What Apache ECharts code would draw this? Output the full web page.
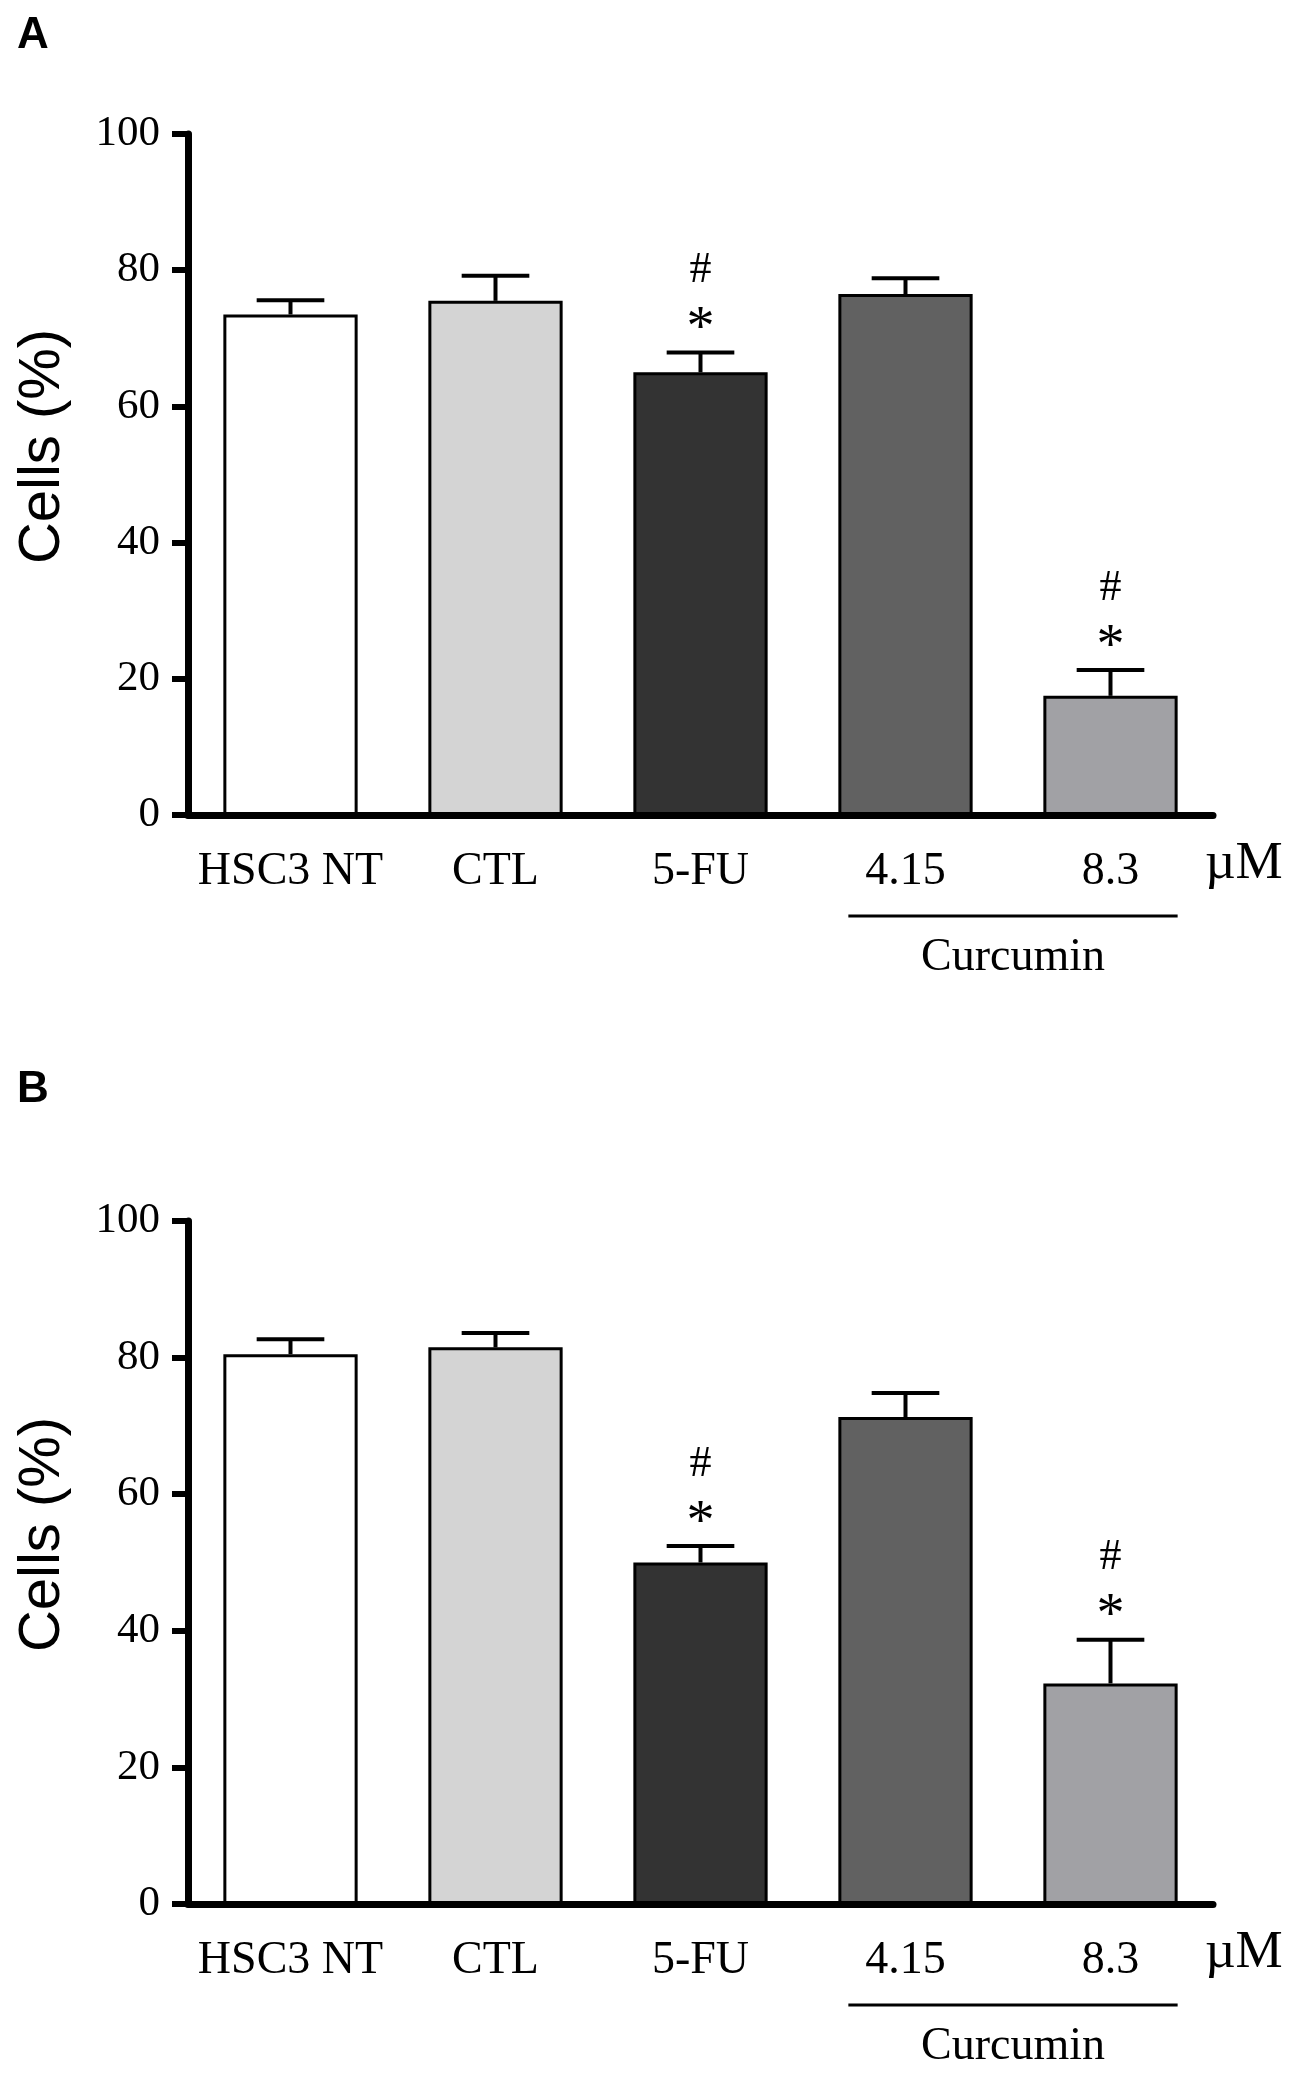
<!DOCTYPE html>
<html>
<head>
<meta charset="utf-8">
<script src="https://cdn.jsdelivr.net/npm/echarts@6/dist/echarts.min.js"></script>
<style>
html,body{margin:0;padding:0;background:#fff;}
#chart{width:1298px;height:2077px;}
</style>
</head>
<body>
<div id="chart"></div>
<script>
// ---- data ----
const categories = ['HSC3 NT', 'CTL', '5-FU', '4.15', '8.3'];
const barColors = ['#ffffff', '#d4d4d4', '#333333', '#616161', '#a1a1a5'];
const yTicks = [0, 20, 40, 60, 80, 100];

const meanA = [73.5, 75.5, 65.0, 76.5, 17.5];
const errA  = [2.1, 3.7, 2.9, 2.3, 3.8];
const sigA  = ['', '', '#*', '', '#*'];

const meanB = [80.5, 81.5, 50.0, 71.3, 32.3];
const errB  = [2.2, 2.1, 2.4, 3.5, 6.4];
const sigB  = ['', '', '#*', '', '#*'];

const panelLabels = ['A', 'B'];
const yTitle = 'Cells (%)';
const unitLabel = 'µM';
const groupLabel = 'Curcumin';
const groupRange = [3, 4];

// ---- build ----
const serif = 'Liberation Serif';
const sans = 'Liberation Sans';
const grids = [
  {left: 188, right: 85, top: 134, height: 681},
  {left: 188, right: 85, top: 1221, height: 683}
];

function xAxisFor(gi) {
  return {
    type: 'category', gridIndex: gi, data: categories,
    axisLine: {lineStyle: {color: '#000', width: 7}},
    axisTick: {alignWithLabel: true, length: 22, lineStyle: {color: '#000', width: 5}},
    axisLabel: {color: '#000', fontFamily: serif, fontSize: 46, margin: 34, interval: 0},
    splitLine: {show: false}
  };
}
function yAxisFor(gi) {
  return {
    type: 'value', gridIndex: gi, min: yTicks[0], max: yTicks[yTicks.length - 1], interval: 20,
    axisLine: {show: true, lineStyle: {color: '#000', width: 7}},
    axisTick: {show: true, length: 16, lineStyle: {color: '#000', width: 6}},
    axisLabel: {color: '#000', fontFamily: serif, fontSize: 43, margin: 28},
    splitLine: {show: false},
    name: yTitle, nameLocation: 'middle', nameGap: 116,
    nameTextStyle: {color: '#000', fontFamily: sans, fontSize: 58, padding: [0, 0, 0, 56]}
  };
}

function barSeries(gi, means) {
  return {
    type: 'bar', xAxisIndex: gi, yAxisIndex: gi, barWidth: '65.5%',
    data: means.map((v, i) => ({value: v, itemStyle: {color: barColors[i]}})),
    itemStyle: {borderColor: '#000', borderWidth: 3},
    z: 2, silent: true
  };
}

function errSeries(gi, means, errs) {
  return {
    type: 'custom', xAxisIndex: gi, yAxisIndex: gi, z: 3, silent: true,
    data: means.map((m, i) => [i, m, errs[i]]),
    encode: {x: 0, y: 1},
    renderItem: function (params, api) {
      const i = api.value(0), m = api.value(1), e = api.value(2);
      const p0 = api.coord([i, m]);
      const p1 = api.coord([i, m + e]);
      const w = api.size([1, 0])[0] * 0.33;
      const st = {stroke: '#000', lineWidth: 4};
      return {type: 'group', children: [
        {type: 'line', shape: {x1: p0[0], y1: p0[1], x2: p1[0], y2: p1[1]}, style: st},
        {type: 'line', shape: {x1: p1[0] - w / 2, y1: p1[1], x2: p1[0] + w / 2, y2: p1[1]}, style: st}
      ]};
    }
  };
}

function sigSeries(gi, means, errs, sig) {
  const data = [];
  sig.forEach((s, i) => { if (s) data.push([i, means[i] + errs[i], s]); });
  return {
    type: 'custom', xAxisIndex: gi, yAxisIndex: gi, z: 4, silent: true,
    data: data, encode: {x: 0, y: 1},
    renderItem: function (params, api) {
      const i = api.value(0), top = api.value(1);
      const s = data[params.dataIndex][2];
      const p = api.coord([i, top]);
      const children = [];
      if (s.indexOf('*') >= 0) children.push({type: 'text', style: {text: '*', x: p[0], y: p[1] - 22, align: 'center', verticalAlign: 'middle', font: '56px "Liberation Serif"', fill: '#000'}});
      if (s.indexOf('#') >= 0) children.push({type: 'text', style: {text: '#', x: p[0], y: p[1] - 82, align: 'center', verticalAlign: 'middle', font: '44px "Liberation Serif"', fill: '#000'}});
      return {type: 'group', children: children};
    }
  };
}

function groupSeries(gi) {
  return {
    type: 'custom', xAxisIndex: gi, yAxisIndex: gi, z: 5, silent: true, clip: false,
    data: [[groupRange[0], 0, groupRange[1]]], encode: {x: 0, y: 1},
    renderItem: function (params, api) {
      const a = api.coord([groupRange[0], 0]);
      const b = api.coord([groupRange[1], 0]);
      const cw = api.size([1, 0])[0];
      const bw = cw * 0.655;
      const x1 = a[0] - bw / 2 + 10, x2 = b[0] + bw / 2;
      return {type: 'group', children: [
        {type: 'line', shape: {x1: x1, y1: a[1] + 101, x2: x2, y2: a[1] + 101}, style: {stroke: '#000', lineWidth: 3}},
        {type: 'text', style: {text: groupLabel, x: (x1 + x2) / 2, y: a[1] + 143, align: 'center', verticalAlign: 'middle', font: '46px "Liberation Serif"', fill: '#000'}},
        {type: 'text', style: {text: unitLabel, x: b[0] + cw / 2 - 8, y: a[1] + 49, align: 'left', verticalAlign: 'middle', font: '53px "Liberation Serif"', fill: '#000'}}
      ]};
    }
  };
}

const option = {
  animation: false,
  backgroundColor: '#fff',
  grid: grids,
  xAxis: [xAxisFor(0), xAxisFor(1)],
  yAxis: [yAxisFor(0), yAxisFor(1)],
  graphic: [
    {type: 'text', left: 17, top: 14, style: {text: panelLabels[0], font: 'bold 44px "Liberation Sans"', fill: '#000'}},
    {type: 'text', left: 17, top: 1068, style: {text: panelLabels[1], font: 'bold 44px "Liberation Sans"', fill: '#000'}}
  ],
  series: [
    barSeries(0, meanA), errSeries(0, meanA, errA), sigSeries(0, meanA, errA, sigA), groupSeries(0),
    barSeries(1, meanB), errSeries(1, meanB, errB), sigSeries(1, meanB, errB, sigB), groupSeries(1)
  ]
};

const chart = echarts.init(document.getElementById('chart'), null, {renderer: 'canvas'});
chart.setOption(option);
</script>
</body>
</html>
